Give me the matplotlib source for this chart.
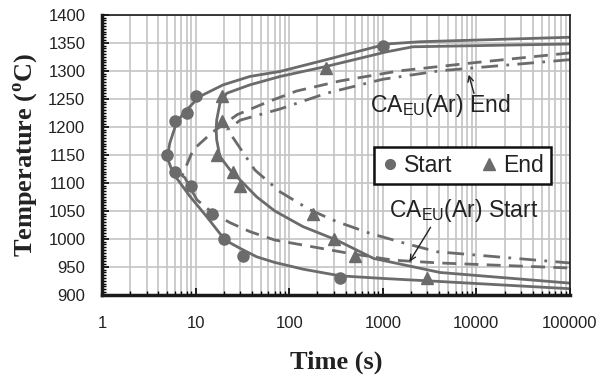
import matplotlib
matplotlib.use("Agg")
import matplotlib.pyplot as plt
from matplotlib.ticker import MultipleLocator, NullFormatter, LogLocator
from matplotlib.lines import Line2D

plt.rcParams['font.family'] = ['Liberation Sans', 'DejaVu Sans']
plt.rcParams['mathtext.fontset'] = 'custom'
plt.rcParams['mathtext.rm'] = 'Liberation Sans'

GREY = '#6b6b6b'

# measured transformation start / end points
start_t = [5, 6, 8, 10, 6, 9, 15, 20, 32, 350, 1000]
start_T = [1150, 1210, 1225, 1255, 1120, 1095, 1045, 1000, 970, 930, 1345]
end_t = [17, 19, 19, 25, 30, 180, 300, 500, 3000, 250]
end_T = [1150, 1210, 1255, 1120, 1095, 1045, 1000, 970, 930, 1305]

# fitted start curve (solid)
fit_start_t = [100000, 2500, 1100, 250, 80, 38, 19.7, 11, 8, 6.3, 5.3, 5.0, 5.7, 8.7, 13.1,
               20.6, 30, 45, 70, 140, 350, 1100, 4000, 100000]
fit_start_T = [1360, 1352, 1348, 1320, 1299, 1290, 1275, 1254, 1230, 1209, 1171, 1145, 1118,
               1076, 1040, 998, 983, 968, 958, 946, 934, 929, 924, 911]

# fitted end curve (solid)
fit_end_t = [100000, 2100, 1100, 250, 80, 38, 21.5, 18.2, 16.8, 16.6, 16.8, 18.2, 23.4, 30,
             45, 70, 140, 320, 800, 4100, 100000]
fit_end_T = [1348, 1343, 1334, 1308, 1290, 1275, 1260, 1242, 1212, 1195, 1177, 1147, 1123,
             1105, 1075, 1050, 1022, 998, 965, 940, 921]

# CA_EU(Ar) start curve (dashed)
ca_start_t = [100000, 10000, 1500, 350, 120, 60, 28, 15, 9.4, 7.2, 7.7, 10.3, 15.3, 23.3, 38,
              70, 410, 1300, 4000, 100000]
ca_start_T = [1332, 1315, 1300, 1282, 1264, 1245, 1222, 1190, 1159, 1113, 1109, 1070, 1046,
              1029, 1013, 998, 975, 962, 957, 948]

# CA_EU(Ar) end curve (dash-dot)
ca_end_t = [100000, 4000, 1000, 250, 80, 30, 22, 27.5, 43, 80, 166, 320, 730, 1650, 3800, 100000]
ca_end_T = [1320, 1300, 1285, 1260, 1232, 1212, 1195, 1171, 1123, 1084, 1052, 1031, 1010, 993,
            977, 957]

fig = plt.figure(figsize=(6.07, 3.81), dpi=100)
ax = fig.add_axes([0.168, 0.226, 0.771, 0.735])

ax.plot(fit_start_t, fit_start_T, color=GREY, lw=2.0, solid_joinstyle='round')
ax.plot(fit_end_t, fit_end_T, color=GREY, lw=2.0, solid_joinstyle='round')
ax.plot(ca_start_t, ca_start_T, color=GREY, lw=2.0, dashes=(5, 3))
ax.plot(ca_end_t, ca_end_T, color=GREY, lw=2.0, dashes=(6, 3, 1, 3))

ax.plot(start_t, start_T, 'o', color=GREY, ms=8, zorder=3)
ax.plot(end_t, end_T, '^', color=GREY, ms=9, zorder=3)

ax.set_xscale('log')
ax.set_xlim(1, 100000)
ax.set_ylim(900, 1400)
ax.yaxis.set_major_locator(MultipleLocator(50))
ax.yaxis.set_minor_locator(MultipleLocator(5))
ax.xaxis.set_minor_locator(LogLocator(base=10, subs=range(2, 10), numticks=20))
ax.xaxis.set_minor_formatter(NullFormatter())
ax.set_xticks([1, 10, 100, 1000, 10000, 100000])
ax.set_xticklabels(['1', '10', '100', '1000', '10000', '100000'])

ax.grid(True, which='major', color='#c4c4c4', lw=1.2, zorder=0)
ax.grid(True, which='minor', axis='x', color='#c4c4c4', lw=1.2, zorder=0)
ax.set_axisbelow(True)

ax.tick_params(axis='both', which='both', direction='in', labelsize=12, colors='black')
ax.tick_params(axis='y', which='major', length=5, width=1.2, right=False, pad=12)
ax.tick_params(axis='y', which='minor', length=3, width=1.0, right=False)
ax.tick_params(axis='x', which='major', length=5, width=1.2, top=False, pad=15)
ax.tick_params(axis='x', which='minor', length=3, width=1.0, top=False)
for lbl in ax.get_xticklabels() + ax.get_yticklabels():
    lbl.set_color('#222222')

ax.spines['left'].set_linewidth(2.5)
ax.spines['bottom'].set_linewidth(2.5)
ax.spines['top'].set_linewidth(1.2)
ax.spines['right'].set_linewidth(1.2)
for s in ax.spines.values():
    s.set_color('#1a1a1a')

serif = dict(family=['Liberation Serif', 'DejaVu Serif'], weight='bold', size=19,
             color='#222222')
ax.set_xlabel('Time (s)', labelpad=14, **serif)
ax.set_ylabel(r'Temperature ($^{\mathregular{o}}$C)', labelpad=6, **serif)

# annotations for the CA_EU(Ar) curves
ax.text(4170, 1239, r'CA$_{\mathregular{EU}}$(Ar) End', fontsize=16.5, ha='center',
        va='center', color='#222222')
ax.annotate('', xy=(8130, 1298), xytext=(9600, 1255),
            arrowprops=dict(arrowstyle='->', color='#222222', lw=1.0))
ax.text(7370, 1050, r'CA$_{\mathregular{EU}}$(Ar) Start', fontsize=16.5, ha='center',
        va='center', color='#222222')
ax.annotate('', xy=(1860, 955), xytext=(3360, 1025),
            arrowprops=dict(arrowstyle='->', color='#222222', lw=1.0))

handles = [Line2D([], [], ls='none', marker='o', color=GREY, ms=7),
           Line2D([], [], ls='none', marker='^', color=GREY, ms=8)]
leg = ax.legend(handles, ['Start', 'End'], ncol=2, loc='upper right',
                bbox_to_anchor=(0.983, 0.568), fontsize=16.5, frameon=True,
                fancybox=False, edgecolor='#111111', handlelength=0.8,
                handletextpad=0.2, columnspacing=1.2, borderpad=0.3, framealpha=1)
leg.get_frame().set_linewidth(1.8)
for t in leg.get_texts():
    t.set_color('#222222')

fig.savefig('out.png', dpi=100)
